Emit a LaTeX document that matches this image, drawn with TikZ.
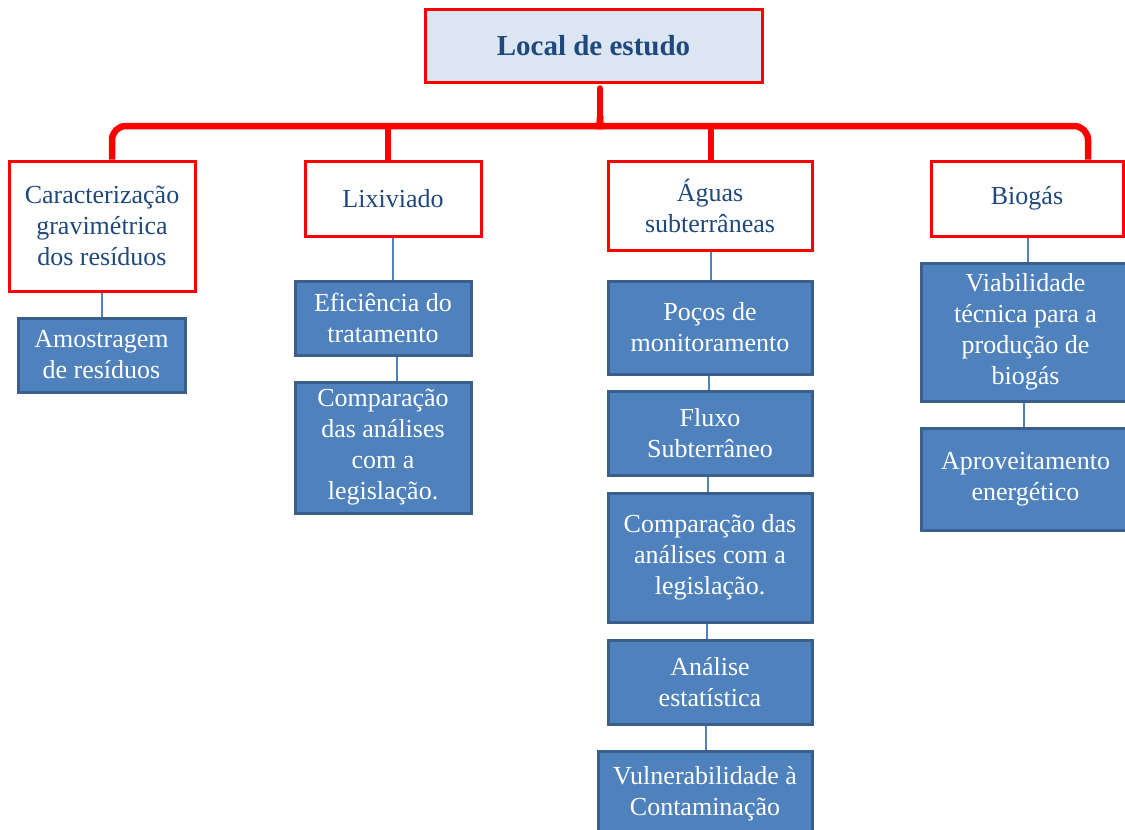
\documentclass[tikz,border=0pt]{standalone}
\usepackage{fontspec}
\setmainfont{Liberation Serif}
\usetikzlibrary{calc}
\definecolor{txtblue}{HTML}{1F497D}
\definecolor{topfill}{HTML}{DCE6F2}
\definecolor{bfill}{HTML}{4F81BD}
\definecolor{bborder}{HTML}{3A5F8C}
\definecolor{bred}{HTML}{FF0000}
\begin{document}
\begin{tikzpicture}[x=1pt,y=-1pt,
  boxtext/.style={align=center, inner sep=0pt, font=\fontsize{26}{31}\selectfont},
  redbox/.style={boxtext, draw=bred, line width=3pt, fill=white, text=txtblue},
  topbox/.style={draw=bred, line width=3pt, fill=topfill, text=txtblue, inner sep=0pt,
    font=\fontsize{29}{34}\selectfont\bfseries},
  bluebox/.style={boxtext, draw=bborder, line width=3pt, fill=bfill, text=white,
    execute at begin node={\rule{0pt}{22pt}}},
  brace/.style={draw=bred, line width=6.5pt, line join=round},
  link/.style={draw=bfill, line width=1.2pt}]
\useasboundingbox (0,0) rectangle (1125,830);

\node[topbox, minimum width=337pt, minimum height=73pt] (top) at (593.5,45.5) {Local de estudo};

\node[redbox, minimum width=186pt, minimum height=130pt] (c1) at (102,226) {Caracterização\\gravimétrica\\dos resíduos};
\node[redbox, minimum width=176pt, minimum height=75pt] (c2) at (393,198.5) {Lixiviado};
\node[redbox, minimum width=204pt, minimum height=89pt] (c3) at (710,205.5) {Águas\\subterrâneas};
\node[redbox, minimum width=192pt, minimum height=75pt] (c4) at (1027,198.5) {Biogás};

\node[bluebox, minimum width=167pt, minimum height=74pt] (b11) at (101.5,355) {Amostragem\\de resíduos};

\node[bluebox, minimum width=176pt, minimum height=74pt] (b21) at (383,318) {Eficiência do\\tratamento};
\node[bluebox, minimum width=176pt, minimum height=131pt] (b22) at (383,447.5) {Comparação\\das análises\\com a\\legislação.};

\node[bluebox, minimum width=204pt, minimum height=93pt] (b31) at (710,327.5) {Poços de\\monitoramento};
\node[bluebox, minimum width=204pt, minimum height=84pt] (b32) at (710,433) {Fluxo\\Subterrâneo};
\node[bluebox, minimum width=204pt, minimum height=129pt] (b33) at (710,557.5) {Comparação das\\análises com a\\legislação.};
\node[bluebox, minimum width=204pt, minimum height=84pt] (b34) at (710,682) {Análise\\estatística};
\node[bluebox, minimum width=214pt, minimum height=86pt] (b35) at (705,794) {Vulnerabilidade à\\Contaminação};

\node[bluebox, minimum width=209pt, minimum height=138pt] (b41) at (1025.5,332) {Viabilidade\\técnica para a\\produção de\\biogás};
\node[bluebox, minimum width=209pt, minimum height=102pt] (b42) at (1025.5,479) {Aproveitamento\\energético};

% brace
\coordinate (bj) at (600,126);
\draw[brace] ($(c1.north)+(10,0)$) [rounded corners=14pt] |- ($(bj)+(-10,0)$) [sharp corners] .. controls (bj) .. ($(bj)+(0,-10)$);
\draw[brace] ($(c4.north)+(61,0)$) [rounded corners=14pt] |- ($(bj)+(10,0)$) [sharp corners] .. controls (bj) .. ($(bj)+(0,-10)$);
\draw[brace, line cap=round] ($(bj)+(0,-9)$) -- ($(top.south)+(6.5,5)$);
\draw[brace] ($(c2.north)+(-5,0)$) -- ++(0,-36);
\draw[brace] ($(c3.north)+(1,0)$) -- ++(0,-36);

% links
\draw[link] (c1.south) -- (b11.north -| c1.south);
\draw[link] (c2.south) -- ([xshift=10pt]b21.north);
\draw[link] ([xshift=14pt]b21.south) -- ([xshift=14pt]b22.north);
\draw[link] ([xshift=1pt]c3.south) -- ([xshift=1pt]b31.north);
\draw[link] ([xshift=-1pt]b31.south) -- ([xshift=-1pt]b32.north);
\draw[link] ([xshift=-2pt]b32.south) -- ([xshift=-2pt]b33.north);
\draw[link] ([xshift=-3pt]b33.south) -- ([xshift=-3pt]b34.north);
\draw[link] ([xshift=-4pt]b34.south) -- ([xshift=1pt]b35.north);
\draw[link] ([xshift=1pt]c4.south) -- ([xshift=2.5pt]b41.north);
\draw[link] ([xshift=-1.5pt]b41.south) -- ([xshift=-1.5pt]b42.north);
\end{tikzpicture}
\end{document}
